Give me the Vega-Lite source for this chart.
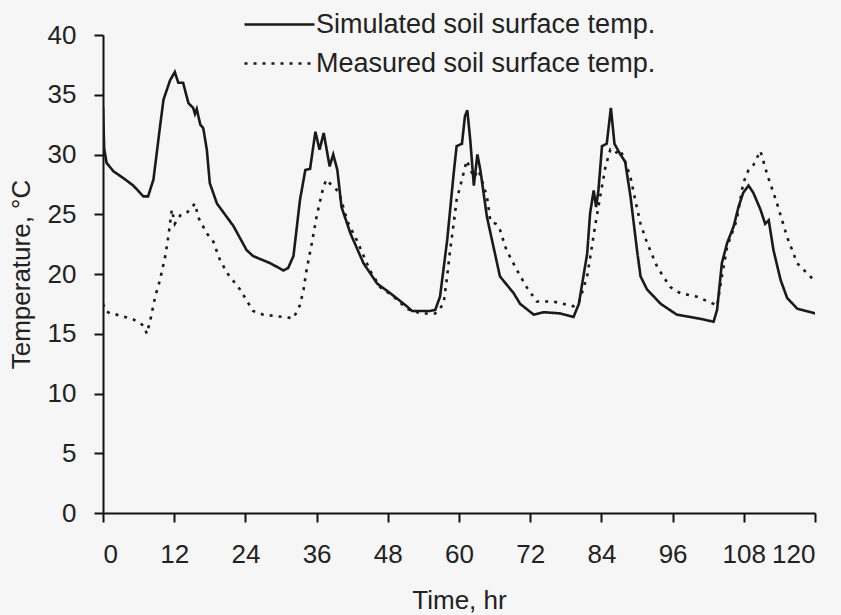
{
  "$schema": "https://vega.github.io/schema/vega-lite/v6.json",
  "autosize": {"type": "none"},
  "width": 712,
  "height": 478,
  "padding": {"left": 103, "top": 35, "right": 26, "bottom": 102},
  "background": "#f6f6f6",
  "config": {
    "view": {"stroke": null},
    "font": "Liberation Sans",
    "axis": {
      "grid": false,
      "domainColor": "#111",
      "domainWidth": 2,
      "tickColor": "#111",
      "tickWidth": 2,
      "tickSize": 9,
      "labelFont": "Liberation Sans",
      "labelFontSize": 26,
      "labelColor": "#222",
      "titleFont": "Liberation Sans",
      "titleFontSize": 26,
      "titleFontWeight": "normal",
      "titleColor": "#222"
    }
  },
  "datasets": {
    "sim": [
      {"t":0,"v":34},{"t":0.2,"v":30.5},{"t":0.6,"v":29.3},{"t":1.75,"v":28.6},{"t":3.5,"v":28.0},{"t":5.1,"v":27.4},{"t":6.8,"v":26.5},{"t":7.6,"v":26.5},{"t":8.5,"v":27.9},{"t":9.6,"v":32.3},{"t":10.2,"v":34.6},{"t":11.3,"v":36.2},{"t":12.1,"v":36.9},{"t":12.7,"v":36.0},{"t":13.5,"v":36.0},{"t":14.4,"v":34.3},{"t":15.2,"v":33.9},{"t":15.5,"v":33.4},{"t":15.8,"v":33.8},{"t":16.4,"v":32.5},{"t":16.9,"v":32.2},{"t":17.5,"v":30.4},{"t":18.0,"v":27.6},{"t":19.2,"v":25.9},{"t":22.0,"v":24.0},{"t":24.2,"v":22.0},{"t":25.3,"v":21.5},{"t":28.2,"v":20.9},{"t":30.4,"v":20.3},{"t":31.2,"v":20.5},{"t":32.1,"v":21.5},{"t":33.2,"v":26.2},{"t":34.1,"v":28.7},{"t":34.9,"v":28.8},{"t":35.8,"v":31.9},{"t":36.5,"v":30.4},{"t":37.2,"v":31.8},{"t":38.2,"v":29.0},{"t":38.8,"v":30.0},{"t":39.5,"v":28.7},{"t":40.2,"v":25.6},{"t":41.7,"v":23.4},{"t":43.9,"v":20.9},{"t":46.2,"v":19.2},{"t":48.4,"v":18.4},{"t":51.2,"v":17.3},{"t":52.1,"v":16.9},{"t":55.1,"v":16.9},{"t":56.0,"v":17.0},{"t":56.8,"v":18.1},{"t":58.0,"v":22.8},{"t":59.1,"v":28.4},{"t":59.6,"v":30.7},{"t":60.5,"v":30.9},{"t":61.0,"v":33.2},{"t":61.4,"v":33.7},{"t":61.9,"v":31.2},{"t":62.5,"v":27.4},{"t":63.1,"v":30.0},{"t":63.6,"v":28.7},{"t":64.7,"v":24.8},{"t":65.8,"v":22.3},{"t":66.9,"v":19.8},{"t":69.2,"v":18.4},{"t":70.3,"v":17.5},{"t":72.6,"v":16.6},{"t":74.3,"v":16.8},{"t":77.1,"v":16.7},{"t":79.3,"v":16.4},{"t":80.2,"v":17.5},{"t":81.6,"v":21.7},{"t":82.1,"v":25.1},{"t":82.7,"v":27.0},{"t":83.1,"v":25.6},{"t":83.5,"v":27.0},{"t":84.1,"v":30.7},{"t":84.9,"v":30.9},{"t":85.6,"v":33.9},{"t":86.2,"v":30.9},{"t":87.2,"v":30.0},{"t":88.0,"v":29.4},{"t":88.9,"v":26.5},{"t":90.0,"v":22.0},{"t":90.6,"v":19.8},{"t":91.7,"v":18.7},{"t":94.0,"v":17.5},{"t":96.7,"v":16.6},{"t":99.0,"v":16.4},{"t":101.2,"v":16.2},{"t":102.9,"v":16.0},{"t":103.5,"v":17.0},{"t":104.3,"v":20.9},{"t":105.2,"v":22.6},{"t":106.3,"v":24.0},{"t":107.1,"v":25.6},{"t":107.9,"v":26.8},{"t":108.8,"v":27.4},{"t":109.6,"v":26.8},{"t":110.8,"v":25.4},{"t":111.6,"v":24.2},{"t":112.2,"v":24.5},{"t":113.0,"v":22.0},{"t":114.2,"v":19.5},{"t":115.3,"v":18.0},{"t":117.0,"v":17.1},{"t":120.0,"v":16.7}
    ],
    "meas": [
      {"t":0,"v":17.5},{"t":0.5,"v":16.9},{"t":1.2,"v":16.7},{"t":2.3,"v":16.6},{"t":5.1,"v":16.2},{"t":6.8,"v":15.7},{"t":7.4,"v":15.0},{"t":8.0,"v":16.2},{"t":8.8,"v":18.1},{"t":9.6,"v":19.5},{"t":10.5,"v":21.5},{"t":11.0,"v":23.1},{"t":11.6,"v":25.4},{"t":12.1,"v":24.2},{"t":13.0,"v":24.9},{"t":14.1,"v":25.1},{"t":15.5,"v":25.9},{"t":16.1,"v":24.7},{"t":17.5,"v":23.4},{"t":18.6,"v":22.7},{"t":19.7,"v":21.2},{"t":20.9,"v":20.1},{"t":23.1,"v":18.7},{"t":25.3,"v":16.9},{"t":27.0,"v":16.6},{"t":32.1,"v":16.3},{"t":33.2,"v":17.4},{"t":33.8,"v":18.7},{"t":34.3,"v":20.3},{"t":35.2,"v":22.6},{"t":36.0,"v":24.8},{"t":36.9,"v":26.8},{"t":37.6,"v":27.9},{"t":38.6,"v":27.4},{"t":39.7,"v":26.9},{"t":40.5,"v":25.6},{"t":41.1,"v":24.5},{"t":42.8,"v":22.8},{"t":45.0,"v":20.3},{"t":46.7,"v":18.9},{"t":49.0,"v":18.1},{"t":51.2,"v":17.1},{"t":53.5,"v":16.7},{"t":56.0,"v":16.7},{"t":57.4,"v":17.5},{"t":58.0,"v":19.8},{"t":58.5,"v":22.0},{"t":59.1,"v":24.2},{"t":59.6,"v":26.2},{"t":60.5,"v":27.9},{"t":61.3,"v":29.5},{"t":62.5,"v":28.1},{"t":63.3,"v":28.7},{"t":64.7,"v":26.5},{"t":65.3,"v":24.4},{"t":66.2,"v":24.2},{"t":66.9,"v":23.7},{"t":68.0,"v":22.0},{"t":69.8,"v":20.3},{"t":71.4,"v":18.9},{"t":73.1,"v":17.7},{"t":75.9,"v":17.7},{"t":79.3,"v":17.3},{"t":80.2,"v":17.6},{"t":81.6,"v":19.8},{"t":82.4,"v":22.3},{"t":83.0,"v":24.2},{"t":83.8,"v":26.5},{"t":84.7,"v":29.0},{"t":85.5,"v":30.4},{"t":86.3,"v":30.1},{"t":87.2,"v":30.4},{"t":88.0,"v":29.4},{"t":88.9,"v":28.1},{"t":89.7,"v":26.2},{"t":90.6,"v":24.2},{"t":91.7,"v":22.6},{"t":93.4,"v":20.6},{"t":95.6,"v":18.9},{"t":97.3,"v":18.4},{"t":100.1,"v":18.1},{"t":102.9,"v":17.5},{"t":103.5,"v":17.3},{"t":104.3,"v":19.8},{"t":105.2,"v":22.3},{"t":106.8,"v":24.5},{"t":107.9,"v":27.6},{"t":108.8,"v":28.7},{"t":109.6,"v":29.1},{"t":110.8,"v":30.3},{"t":111.9,"v":28.4},{"t":113.6,"v":25.9},{"t":115.3,"v":23.1},{"t":117.0,"v":20.9},{"t":119.8,"v":19.5}
    ]
  },
  "data": {"name": "sim"},
  "transform": [
    {"calculate": "'Simulated soil surface temp.'", "as": "series"}
  ],
  "layer": [
    {
      "mark": {"type": "line", "color": "#1a1a1a", "strokeWidth": 2.6, "clip": true},
      "encoding": {
        "x": {
          "field": "t", "type": "quantitative",
          "scale": {"domain": [0, 120], "nice": false},
          "axis": {"values": [0,12,24,36,48,60,72,84,96,108,120], "title": "Time, hr", "labelPadding": 19, "titlePadding": 20}
        },
        "y": {
          "field": "v", "type": "quantitative",
          "scale": {"domain": [0, 40], "nice": false},
          "axis": {"values": [0,5,10,15,20,25,30,35,40], "title": "Temperature, °C", "labelPadding": 18, "titlePadding": 13}
        },
        "strokeDash": {
          "field": "series", "type": "nominal",
          "scale": {"domain": ["Simulated soil surface temp.", "Measured soil surface temp."], "range": [[1, 0], [3, 6]]},
          "legend": {
            "orient": "none", "legendX": 140, "legendY": -26, "title": null,
            "symbolType": "M-1,0H4", "symbolSize": 784, "symbolStrokeWidth": 2.6, "symbolStrokeColor": "#1a1a1a", "symbolFillColor": "transparent",
            "labelFontSize": 27, "labelFont": "Liberation Sans", "labelColor": "#222", "labelOffset": 42,
            "rowPadding": 10, "labelLimit": 0
          }
        }
      }
    },
    {
      "data": {"name": "meas"},
      "transform": [
        {"calculate": "'Measured soil surface temp.'", "as": "series"}
      ],
      "mark": {"type": "line", "color": "#1a1a1a", "strokeWidth": 2.6, "clip": true},
      "encoding": {
        "x": {"field": "t", "type": "quantitative"},
        "y": {"field": "v", "type": "quantitative"},
        "strokeDash": {"field": "series", "type": "nominal"}
      }
    }
  ]
}
